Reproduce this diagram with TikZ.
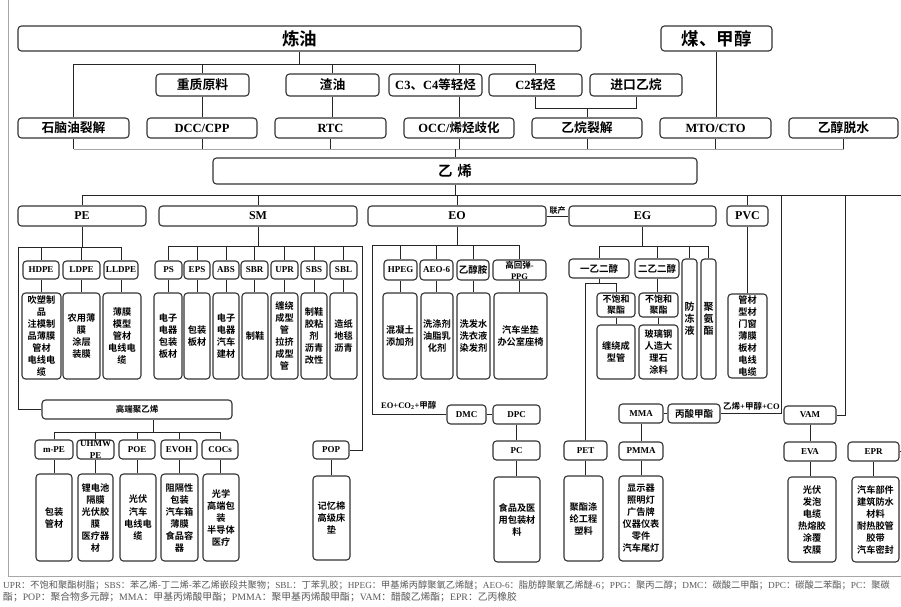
\documentclass[tikz,border=0pt]{standalone}
\usepackage{fontspec}
\setmainfont{Liberation Serif}
\newfontfamily\zh{Noto Sans CJK SC}[BoldFont={Noto Sans CJK SC Bold}]
\newcommand\Z[1]{{\zh #1}}
\newcommand\bx[6][]{\node[box,minimum width={#4-#2},minimum height={#5-#3},#1] (#6) at ({(#2+#4)/2},{(#3+#5)/2})}
\tikzset{
 box/.style={draw=black!80, line width=1.1pt, rounded corners=3.5pt, inner sep=0pt, align=center, fill=white},
 conn/.style={draw=black!85, line width=0.9pt},
 busg/.style={draw=black!35, line width=0.9pt},
 frame/.style={draw=black!35, line width=1pt},
 tt/.style={font=\zh\bfseries\fontsize{17.5}{20}\selectfont},
 zl/.style={font=\zh\bfseries\fontsize{12.8}{15}\selectfont},
 el/.style={font=\bfseries\fontsize{12.5}{15}\selectfont},
 eh/.style={font=\bfseries\fontsize{12}{14}\selectfont},
 es/.style={font=\bfseries\fontsize{9}{11}\selectfont},
 zs/.style={font=\zh\bfseries\fontsize{9.5}{11.5}\selectfont},
 zp/.style={font=\zh\bfseries\fontsize{9.2}{12}\selectfont},
 lab/.style={font=\bfseries\fontsize{8.5}{10}\selectfont, inner sep=0pt},
 leg/.style={font=\fontsize{9.8}{11}\selectfont, text=black!65, anchor=west, inner sep=0pt},
}
\begin{document}
\begin{tikzpicture}[x=1pt,y=-1pt]
\useasboundingbox (0,0) rectangle (901,606);
\clip (0,0) rectangle (901,606);
\fill[white] (0,0) rectangle (901,606);
\draw[frame] (8,0) -- (8,576) -- (901,576);

% ---- top rows
\bx[tt]{18}{26}{581}{51}{lianyou} {炼油};
\bx[tt]{661}{26}{772}{51}{coal} {煤、甲醇};
\bx[zl]{156}{74}{249}{96}{heavy} {重质原料};
\bx[zl]{286}{74}{379}{96}{resid} {渣油};
\bx[el]{389}{74}{482}{96}{c3} {C3\Z{、}C4\Z{等轻烃}};
\bx[el]{489}{74}{582}{96}{c2} {C2\Z{轻烃}};
\bx[zl]{590}{74}{682}{96}{imp} {进口乙烷};
\bx[zl]{18}{118}{129}{138}{naph} {石脑油裂解};
\bx[el]{147}{118}{257}{138}{dcc} {DCC/CPP};
\bx[el]{275}{118}{386}{138}{rtc} {RTC};
\bx[el]{404}{118}{514}{138}{occ} {OCC/\Z{烯烃歧化}};
\bx[zl]{532}{118}{642}{138}{ethc} {乙烷裂解};
\bx[el]{660}{118}{771}{138}{mto} {MTO/CTO};
\bx[zl]{789}{118}{898}{138}{dehyd} {乙醇脱水};
\bx[font=\zh\bfseries\fontsize{14.5}{16}\selectfont]{213}{158}{697}{184}{ethylene} {乙\hspace{5pt}烯};

% ---- product groups
\bx[eh]{18}{206}{146}{226}{pe} {PE};
\bx[eh]{159}{206}{357}{226}{sm} {SM};
\bx[eh]{368}{206}{546}{226}{eo} {EO};
\bx[eh]{569}{206}{716}{226}{eg} {EG};
\bx[eh]{727}{206}{768}{226}{pvc} {PVC};

% PE
\bx[es]{23}{261}{59}{279}{hdpe} {HDPE};
\bx[es]{63}{261}{100}{279}{ldpe} {LDPE};
\bx[es]{104}{261}{138}{279}{lldpe} {LLDPE};
\bx[zp]{22}{293}{61}{379}{hdpep} {吹塑制\\品\\注模制\\品薄膜\\管材\\电线电\\缆};
\bx[zp]{63}{293}{100}{379}{ldpep} {农用薄\\膜\\涂层\\装膜};
\bx[zp]{103}{293}{141}{379}{lldpep} {薄膜\\模型\\管材\\电线电\\缆};

% SM
\bx[es]{155}{261}{182}{279}{ps} {PS};
\bx[es]{184}{261}{210}{279}{eps} {EPS};
\bx[es]{213}{261}{239}{279}{absn} {ABS};
\bx[es]{241}{261}{268}{279}{sbr} {SBR};
\bx[es]{271}{261}{298}{279}{upr} {UPR};
\bx[es]{301}{261}{327}{279}{sbs} {SBS};
\bx[es]{330}{261}{357}{279}{sbl} {SBL};
\bx[zp]{154}{293}{182}{379}{psp} {电子\\电器\\包装\\板材};
\bx[zp]{184}{293}{210}{379}{epsp} {包装\\板材};
\bx[zp]{213}{293}{239}{379}{absp} {电子\\电器\\汽车\\建材};
\bx[zp]{242}{293}{268}{379}{sbrp} {制鞋};
\bx[zp]{271}{293}{298}{379}{uprp} {缠绕\\成型\\管\\拉挤\\成型\\管};
\bx[zp]{301}{293}{327}{379}{sbsp} {制鞋\\胶粘\\剂\\沥青\\改性};
\bx[zp]{330}{293}{357}{379}{sblp} {造纸\\地毯\\沥青};
\bx[es]{313}{441}{349}{459}{pop} {POP};
\bx[zp]{313}{476}{350}{560}{popp} {记忆棉\\高级床\\垫};

% EO
\bx[es]{384}{260}{417}{280}{hpeg} {HPEG};
\bx[es]{420}{260}{453}{280}{aeo} {AEO-6};
\bx[zs]{457}{260}{489}{280}{eta} {乙醇胺};
\bx[font=\bfseries\fontsize{8.5}{11}\selectfont]{493}{260}{546}{280}{ppg} {\Z{高回弹}-\\PPG};
\bx[zp]{383}{293}{417}{379}{hpegp} {混凝土\\添加剂};
\bx[zp]{421}{293}{453}{379}{aeop} {洗涤剂\\油脂乳\\化剂};
\bx[zp]{457}{293}{490}{379}{etap} {洗发水\\洗衣液\\染发剂};
\bx[zp]{494}{293}{547}{379}{ppgp} {汽车坐垫\\办公室座椅};
\bx[es]{447}{405}{486}{424}{dmc} {DMC};
\bx[es]{493}{405}{540}{424}{dpc} {DPC};
\bx[es]{493}{441}{540}{460}{pc} {PC};
\bx[zp]{494}{477}{540}{562}{pcp} {食品及医\\用包装材\\料};

% EG
\bx[zs]{569}{259}{629}{278}{meg} {一乙二醇};
\bx[zs]{635}{259}{679}{278}{deg} {二乙二醇};
\bx[font=\zh\bfseries\fontsize{10}{12}\selectfont]{682}{259}{697}{379}{af} {防\\冻\\液};
\bx[font=\zh\bfseries\fontsize{10}{12}\selectfont]{701}{259}{716}{379}{pu} {聚\\氨\\酯};
\bx[font=\zh\bfseries\fontsize{9}{11}\selectfont]{597}{293}{635}{317}{upa} {不饱和\\聚酯};
\bx[font=\zh\bfseries\fontsize{9}{11}\selectfont]{639}{293}{678}{317}{upb} {不饱和\\聚酯};
\bx[zp]{597}{325}{635}{379}{upap} {缠绕成\\型管};
\bx[zp]{639}{325}{678}{379}{upbp} {玻璃钢\\人造大\\理石\\涂料};
\bx[es]{564}{441}{607}{460}{pet} {PET};
\bx[zp]{564}{476}{603}{561}{petp} {聚酯涤\\纶工程\\塑料};

% PVC
\bx[zp]{728}{294}{767}{378}{pvcp} {管材\\型材\\门窗\\薄膜\\板材\\电线\\电缆};

% MMA / VAM / EPR
\bx[es]{619}{404}{663}{423}{mma} {MMA};
\bx[zs]{668}{404}{720}{423}{mp} {丙酸甲酯};
\bx[es]{619}{442}{663}{460}{pmma} {PMMA};
\bx[zp]{619}{476}{663}{561}{pmmap} {显示器\\照明灯\\广告牌\\仪器仪表\\零件\\汽车尾灯};
\bx[es]{784}{406}{836}{424}{vam} {VAM};
\bx[es]{784}{442}{836}{461}{eva} {EVA};
\bx[zp]{788}{477}{836}{562}{evap} {光伏\\发泡\\电缆\\热熔胶\\涂覆\\农膜};
\bx[es]{848}{442}{899}{461}{epr} {EPR};
\bx[zp]{852}{477}{899}{562}{eprp} {汽车部件\\建筑防水\\材料\\耐热胶管\\胶带\\汽车密封};

% high-end PE
\bx[font=\zh\bfseries\fontsize{8.5}{10}\selectfont]{42}{400}{232}{419}{hd} {高端聚乙烯};
\bx[es]{35}{440}{73}{459}{mpe} {m-PE};
\bx[font=\bfseries\fontsize{9}{12.5}\selectfont]{77}{440}{114}{459}{uhmw} {UHMW\\PE};
\bx[es]{119}{440}{155}{459}{poe} {POE};
\bx[es]{161}{440}{197}{459}{evoh} {EVOH};
\bx[es]{202}{440}{238}{459}{cocs} {COCs};
\bx[zp]{36}{474}{72}{561}{mpep} {包装\\管材};
\bx[zp]{78}{474}{113}{561}{uhmwp} {锂电池\\隔膜\\光伏胶\\膜\\医疗器\\材};
\bx[zp]{120}{474}{156}{561}{poep} {光伏\\汽车\\电线电\\缆};
\bx[zp]{161}{474}{198}{561}{evohp} {阻隔性\\包装\\汽车箱\\薄膜\\食品容\\器};
\bx[zp]{203}{474}{239}{561}{cocsp} {光学\\高端包\\装\\半导体\\医疗};

% ---- junction coordinates
\coordinate (yA) at (0,64);
\coordinate (yJ) at (0,108);
\coordinate (yB) at (0,149);
\coordinate (yC) at (0,195);
\coordinate (rC) at (901,195);
\coordinate (x781) at (781,195);
\coordinate (x845) at (845,195);
\coordinate (yPE) at (0,247);
\coordinate (peL) at (18,247);
\coordinate (ySM) at (0,246);
\coordinate (smR) at (362,246);
\coordinate (yEO) at (0,245);
\coordinate (eoL) at (372,245);
\coordinate (yEG) at (0,246);
\coordinate (yMEG) at (0,283);
\coordinate (yHD) at (0,432);
\coordinate (hdo) at ([xshift=16pt]hd.south);

% ---- connectors: top
\draw[conn] (lianyou.south) -- (lianyou.south |- yA);
\draw[conn] (naph.north) -- (naph.north |- yA) -| (c2.north);
\draw[conn] (heavy.north) -- (heavy.north |- yA);
\draw[conn] (resid.north) -- (resid.north |- yA);
\draw[conn] (occ.north |- yA) -- (occ.north |- c3.north);
\draw[conn] (occ.north |- c3.south) -- (occ.north);
\draw[conn] (heavy.south) -- (heavy.south |- dcc.north);
\draw[conn] (resid.south) -- (resid.south |- rtc.north);
\draw[conn] (c2.south) -- (c2.south |- yJ) -| (imp.south);
\draw[conn] (ethc.north) -- (ethc.north |- yJ);
\draw[conn] (coal.south) -- (coal.south |- mto.north);
\foreach \n in {naph,dcc,rtc,occ,ethc,mto,dehyd} \draw[conn] (\n.south) -- (\n.south |- yB);
\draw[busg] (naph.south |- yB) -- (dehyd.south |- yB);
\draw[conn] (ethylene.north |- yB) -- (ethylene.north);

% ethylene bus
\draw[conn] (ethylene.south) -- (ethylene.south |- yC);
\draw[conn] (pe.north) -- (pe.north |- yC) -- (rC);
\foreach \n in {sm,eo,pvc} \draw[conn] (\n.north) -- (\n.north |- yC);
\draw[conn] (x781) |- (mp.east);
\draw[conn] (x845) |- (vam.east);
\draw[conn] (epr.east) -- (epr.east -| rC);
\draw[conn] (eo.east) -- node[above=1pt, font=\zh\bfseries\fontsize{8}{9}\selectfont, inner sep=0pt] {联产} (eg.west);
\draw[conn] (pvc.south) -- (pvc.south |- pvcp.north);

% PE
\draw[conn] (pe.south) -- (pe.south |- yPE);
\draw[conn] (hd.west) -| (peL) -- (lldpe.north |- yPE) -- (lldpe.north);
\foreach \n in {hdpe,ldpe} \draw[conn] (\n.north) -- (\n.north |- yPE);
\foreach \a/\b in {hdpe/hdpep,ldpe/ldpep,lldpe/lldpep} \draw[conn] (\a.south) -- (\a.south |- \b.north);

% SM
\draw[conn] (sm.south) -- (sm.south |- ySM);
\draw[conn] (ps.north) -- (ps.north |- ySM) -- (smR) |- (pop.east);
\foreach \n in {eps,absn,sbr,upr,sbs,sbl} \draw[conn] (\n.north) -- (\n.north |- ySM);
\foreach \a/\b in {ps/psp,eps/epsp,absn/absp,sbr/sbrp,upr/uprp,sbs/sbsp,sbl/sblp,pop/popp} \draw[conn] (\a.south) -- (\a.south |- \b.north);

% EO
\draw[conn] (eo.south) -- (eo.south |- yEO);
\draw[conn] (dmc.west) -| (eoL) -- (ppg.north |- yEO) -- (ppg.north);
\foreach \n in {hpeg,aeo,eta} \draw[conn] (\n.north) -- (\n.north |- yEO);
\foreach \a/\b in {hpeg/hpegp,aeo/aeop,eta/etap,ppg/ppgp,dpc/pc,pc/pcp} \draw[conn] (\a.south) -- (\a.south |- \b.north);
\draw[conn] (dmc.east) -- (dpc.west);
\node[lab, anchor=south west] (eolab) at (381,410) {EO+CO\textsubscript{2}+\Z{甲醇}};

% EG
\draw[conn] (eg.south) -- (eg.south |- yEG);
\draw[conn] (meg.north) -- (meg.north |- yEG) -- (pu.north |- yEG) -- (pu.north);
\foreach \n in {deg,af} \draw[conn] (\n.north) -- (\n.north |- yEG);
\draw[conn] (meg.south) -- (meg.south |- yMEG);
\draw[conn] (pet.north) -- (pet.north |- yMEG) -| (upa.north);
\foreach \a/\b in {upa/upap,deg/upb,upb/upbp,pet/petp} \draw[conn] (\a.south) -- (\a.south |- \b.north);

% MMA / VAM / EPR
\draw[conn] (mma.east) -- (mp.west);
\foreach \a/\b in {mma/pmma,pmma/pmmap,vam/eva,eva/evap,epr/eprp} \draw[conn] (\a.south) -- (\a.south |- \b.north);
\node[lab, anchor=south west] (vlab) at (723,410) {\Z{乙烯}+\Z{甲醇}+CO};

% high-end PE
\draw[conn] (hdo) -- (hdo |- yHD);
\draw[conn] (mpe.north) -- (mpe.north |- yHD) -- (cocs.north |- yHD) -- (cocs.north);
\foreach \n in {uhmw,poe,evoh} \draw[conn] (\n.north) -- (\n.north |- yHD);
\foreach \a/\b in {mpe/mpep,uhmw/uhmwp,poe/poep,evoh/evohp,cocs/cocsp} \draw[conn] (\a.south) -- (\a.south |- \b.north);

% legend
\node[leg, font=\fontsize{9.25}{11}\selectfont] (leg1) at (3,585) {UPR\Z{：不饱和聚酯树脂；}SBS\Z{：苯乙烯-丁二烯-苯乙烯嵌段共聚物；}SBL\Z{：丁苯乳胶；}HPEG\Z{：甲基烯丙醇聚氧乙烯醚；}AEO-6\Z{：脂肪醇聚氧乙烯醚}-6\Z{；}PPG\Z{：聚丙二醇；}DMC\Z{：碳酸二甲酯；}DPC\Z{：碳酸二苯酯；}PC\Z{：聚碳}};
\node[leg] (leg2) at (3,597) {\Z{酯；}POP\Z{：聚合物多元醇；}MMA\Z{：甲基丙烯酸甲酯；}PMMA\Z{：聚甲基丙烯酸甲酯；}VAM\Z{：醋酸乙烯酯；}EPR\Z{：乙丙橡胶}};
\end{tikzpicture}
\end{document}
